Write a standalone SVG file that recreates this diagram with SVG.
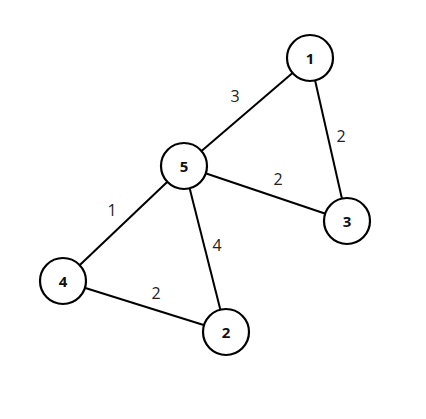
<svg xmlns="http://www.w3.org/2000/svg" width="426" height="419" viewBox="0 0 426 419">
<style>
.edge{stroke:#000;stroke-width:2;fill:none}
.node circle{fill:#fff;stroke:#000;stroke-width:2.2}
.node text{font-family:"Open Sans","DejaVu Sans",sans-serif;font-weight:bold;font-size:15px;fill:#111;text-anchor:middle;dominant-baseline:central}
.lbl{font-family:"Open Sans","DejaVu Sans",sans-serif;font-size:16px;fill:#222;text-anchor:middle;dominant-baseline:central}
</style>
<rect width="426" height="419" fill="#fff"/>
<g id="connectors">
<line class="edge" x1="310" y1="58" x2="184" y2="166"/>
<line class="edge" x1="310" y1="58" x2="347" y2="221"/>
<line class="edge" x1="184" y1="166" x2="347" y2="221"/>
<line class="edge" x1="184" y1="166" x2="63" y2="281"/>
<line class="edge" x1="184" y1="166" x2="226" y2="332"/>
<line class="edge" x1="63" y1="281" x2="226" y2="332"/>
<text class="lbl" x="235" y="96">3</text>
<text class="lbl" x="341" y="136">2</text>
<text class="lbl" x="278" y="179">2</text>
<text class="lbl" x="112" y="210">1</text>
<text class="lbl" x="217" y="245">4</text>
<text class="lbl" x="156" y="293">2</text>
</g>
<g id="node1" class="node"><circle cx="310" cy="58" r="23"/><text x="310" y="58">1</text></g>
<g id="node5" class="node"><circle cx="184" cy="166" r="23"/><text x="184" y="166">5</text></g>
<g id="node4" class="node"><circle cx="63" cy="281" r="23"/><text x="63" y="281">4</text></g>
<g id="node2" class="node"><circle cx="226" cy="332" r="23"/><text x="226" y="332">2</text></g>
<g id="node3" class="node"><circle cx="347" cy="221" r="23"/><text x="347" y="221">3</text></g>
</svg>
